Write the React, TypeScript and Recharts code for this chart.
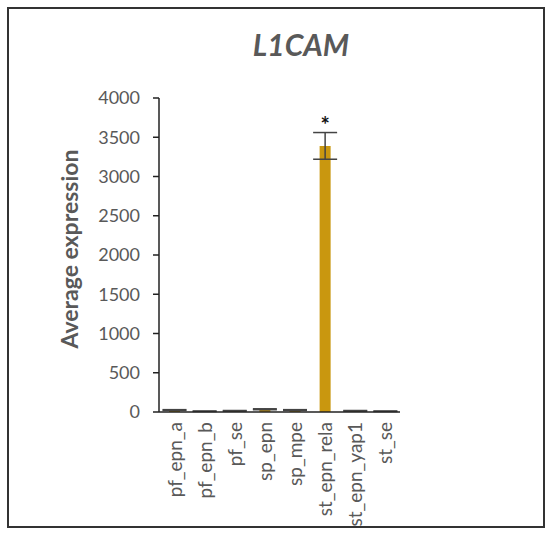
import React from 'react';
import { BarChart, Bar, XAxis, YAxis, ErrorBar, LabelList } from 'recharts';

const categories = ['pf_epn_a', 'pf_epn_b', 'pf_se', 'sp_epn', 'sp_mpe', 'st_epn_rela', 'st_epn_yap1', 'st_se'];
const values = [25, 10, 15, 35, 25, 3390, 15, 10];
const errors = [5, 3, 4, 6, 5, 170, 4, 3];
const marks = ['', '', '', '', '', '*', '', ''];
const yTicks = [0, 500, 1000, 1500, 2000, 2500, 3000, 3500, 4000];

const data = categories.map((name, i) => ({ name, value: values[i], err: errors[i], mark: marks[i] }));

const FONT = 'Lato, "Open Sans", sans-serif';
const GREY = '#595959';

const XTick = ({ x, y, payload }: any) => (
  <text
    x={x}
    y={y}
    transform={`rotate(-90, ${x}, ${y})`}
    textAnchor="end"
    dominantBaseline="central"
    fontSize={19}
    fontFamily={FONT}
    fill={GREY}
  >
    {payload.value}
  </text>
);

const YLabel = () => {
  const cy = 249;
  return (
    <text
      x={69}
      y={cy}
      transform={`rotate(-90, 69, ${cy})`}
      textAnchor="middle"
      dominantBaseline="central"
      fontSize={23}
      fontWeight="bold"
      fontFamily={FONT}
      fill={GREY}
    >
      Average expression
    </text>
  );
};

// asterisk above the significant bar
const Star = ({ x, y, width, value }: any) => {
  if (!value) return null;
  return (
    <text x={x + width / 2} y={y - 13} textAnchor="middle" fontSize={22} fontWeight="bold" fontFamily={FONT} fill="#111">
      {value}
    </text>
  );
};

export default function App() {
  return (
    <div style={{ position: 'absolute', left: 0, top: 0, width: 550, height: 539, background: '#fff' }}>
      <div
        style={{
          position: 'absolute',
          left: 7,
          top: 7,
          width: 534,
          height: 517,
          border: '2px solid #333',
        }}
      />
      <div
        style={{
          position: 'absolute',
          left: 0,
          width: 602,
          top: 26,
          textAlign: 'center',
          fontFamily: FONT,
          fontWeight: 'bold',
          fontStyle: 'italic',
          fontSize: 30,
          color: GREY,
        }}
      >
        L1CAM
      </div>
      <BarChart
        width={550}
        height={539}
        data={data}
        margin={{ top: 98, right: 150, bottom: 0, left: 0 }}
        barSize={11}
        style={{ position: 'absolute', left: 0, top: 0 }}
      >
        <XAxis
          dataKey="name"
          height={127}
          tickLine={false}
          axisLine={{ stroke: '#222', strokeWidth: 1.5 }}
          tick={<XTick />}
          interval={0}
          tickMargin={4}
        />
        <YAxis
          width={159}
          domain={[0, 4000]}
          ticks={yTicks}
          interval={0}
          axisLine={{ stroke: '#222', strokeWidth: 1.5 }}
          tickLine={{ stroke: '#222', strokeWidth: 1.5 }}
          tickSize={6}
          tickMargin={13}
          tick={{ fontSize: 18, fontFamily: FONT, fill: GREY }}
          label={<YLabel />}
        />
        <Bar dataKey="value" fill="#C9970F" isAnimationActive={false}>
          <ErrorBar dataKey="err" width={12} stroke="#444" strokeWidth={1.5} />
          <LabelList dataKey="mark" content={<Star />} />
        </Bar>
      </BarChart>
    </div>
  );
}
